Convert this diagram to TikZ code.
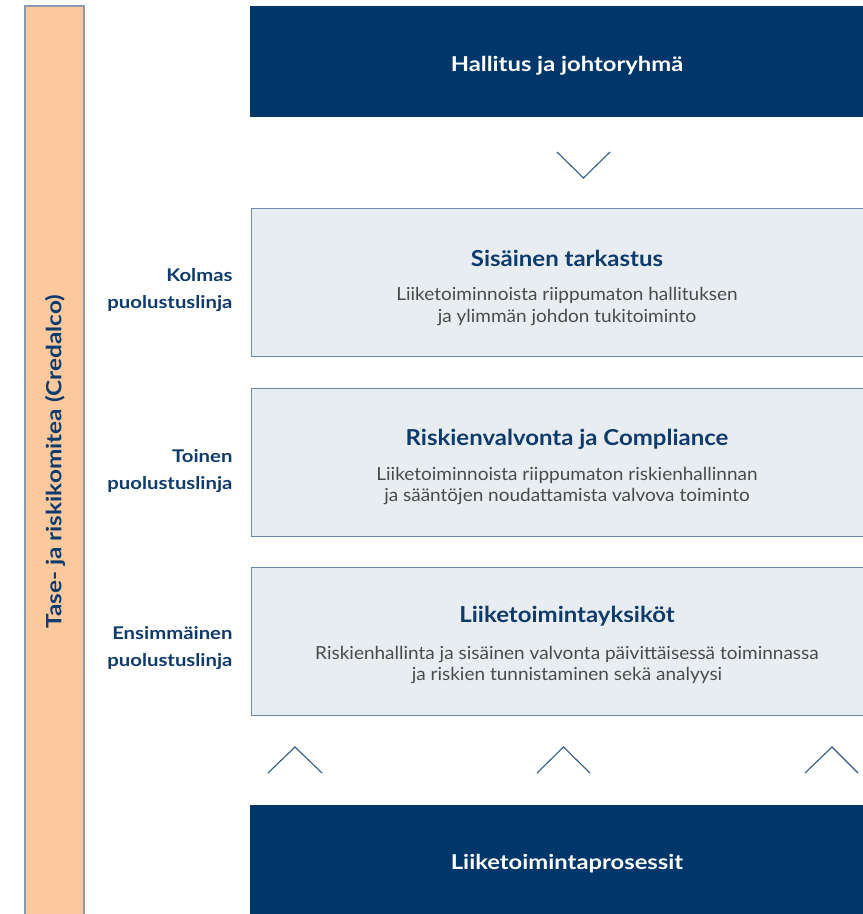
\documentclass[tikz,border=0pt]{standalone}
\usepackage{fontspec}
\setmainfont{Lato}[FakeStretch=1.16]
\newfontfamily\titlefont{Lato}[FakeStretch=1.09]
\newfontfamily\bodyfont{Lato}[FakeStretch=1.055]
\definecolor{navy}{HTML}{00376B}
\definecolor{titleblue}{HTML}{0E3B6C}
\definecolor{bodygray}{HTML}{4A4A4A}
\definecolor{boxfill}{HTML}{E8EDF2}
\definecolor{boxline}{HTML}{6F8AA8}
\definecolor{peach}{HTML}{FCC89E}
\definecolor{barline}{HTML}{8A9BB0}
\definecolor{chev}{HTML}{2F5A86}
\tikzset{
  navybox/.style={fill=navy, draw=none, inner sep=0pt, minimum width=634pt, minimum height=111pt},
  navytext/.style={text=white, font=\fontsize{20.5}{24}\selectfont\bfseries},
  linebox/.style={fill=boxfill, draw=boxline, line width=1pt, inner sep=0pt, minimum width=633pt, minimum height=148pt},
  boxtitle/.style={text=titleblue, font=\titlefont\fontsize{22}{26}\selectfont\bfseries},
  boxbody/.style={text=bodygray, align=center, font=\bodyfont\fontsize{18}{21.5}\selectfont},
  sidelabel/.style={text=titleblue, align=right, anchor=east, font=\fontsize{17.5}{27}\selectfont\bfseries},
  chevron/.style={draw=chev, line width=1.1pt},
  sidebar/.style={fill=peach, draw=barline, line width=1.3pt}
}
\begin{document}
\begin{tikzpicture}[x=1pt,y=-1pt]
\useasboundingbox (0,0) rectangle (863,914);
\fill[white] (0,0) rectangle (863,914);
\begin{scope}
\clip (0,0) rectangle (863,914);
% side bar
\draw[sidebar] (25,6) rectangle (84,925);
\node[rotate=90, text=titleblue, font=\fontsize{21}{25}\selectfont\bfseries] (bar) at (55,462) {Tase- ja riskikomitea (Credalco)};
% top box
\node[navybox] (top) at (567,61.5) {};
\node[navytext] (toptxt) at (567,66) {Hallitus ja johtoryhmä};
% chevron down
\coordinate (cd1) at (557,152);
\coordinate (cd2) at (583.5,178);
\coordinate (cd3) at (610,152);
\draw[chevron] (cd1) -- (cd2) -- (cd3);
% box 1
\node[linebox] (b1) at (567.5,282) {};
\node[boxtitle] (b1t) at (567,258) {Sisäinen tarkastus};
\node[boxbody] (b1b) at (567,306.5) {Liiketoiminnoista riippumaton hallituksen\\ja ylimmän johdon tukitoiminto};
% box 2
\node[linebox] (b2) at (567.5,462) {};
\node[boxtitle] (b2t) at (567,439) {Riskienvalvonta ja Compliance};
\node[boxbody] (b2b) at (567,486) {Liiketoiminnoista riippumaton riskienhallinnan\\ja sääntöjen noudattamista valvova toiminto};
% box 3
\node[linebox] (b3) at (567.5,641) {};
\node[boxtitle] (b3t) at (567,616) {Liiketoimintayksiköt};
\node[boxbody] (b3b) at (567,665) {Riskienhallinta ja sisäinen valvonta päivittäisessä toiminnassa\\ja riskien tunnistaminen sekä analyysi};
% side labels
\node[sidelabel] (l1) at (236,290) {Kolmas\\puolustuslinja};
\node[sidelabel] (l2) at (236,471) {Toinen\\puolustuslinja};
\node[sidelabel] (l3) at (236,648) {Ensimmäinen\\puolustuslinja};
% chevrons up
\coordinate (ca1) at (268,773); \coordinate (ca2) at (295,747); \coordinate (ca3) at (322,773);
\coordinate (cb1) at (537,773); \coordinate (cb2) at (563.5,747); \coordinate (cb3) at (590,773);
\coordinate (cc1) at (805,773); \coordinate (cc2) at (832,747); \coordinate (cc3) at (858,773);
\draw[chevron] (ca1) -- (ca2) -- (ca3);
\draw[chevron] (cb1) -- (cb2) -- (cb3);
\draw[chevron] (cc1) -- (cc2) -- (cc3);
% bottom box
\node[navybox, minimum height=120pt] (bot) at (567,865) {};
\node[navytext] (bottxt) at (567,864) {Liiketoimintaprosessit};
\end{scope}
\end{tikzpicture}
\end{document}
